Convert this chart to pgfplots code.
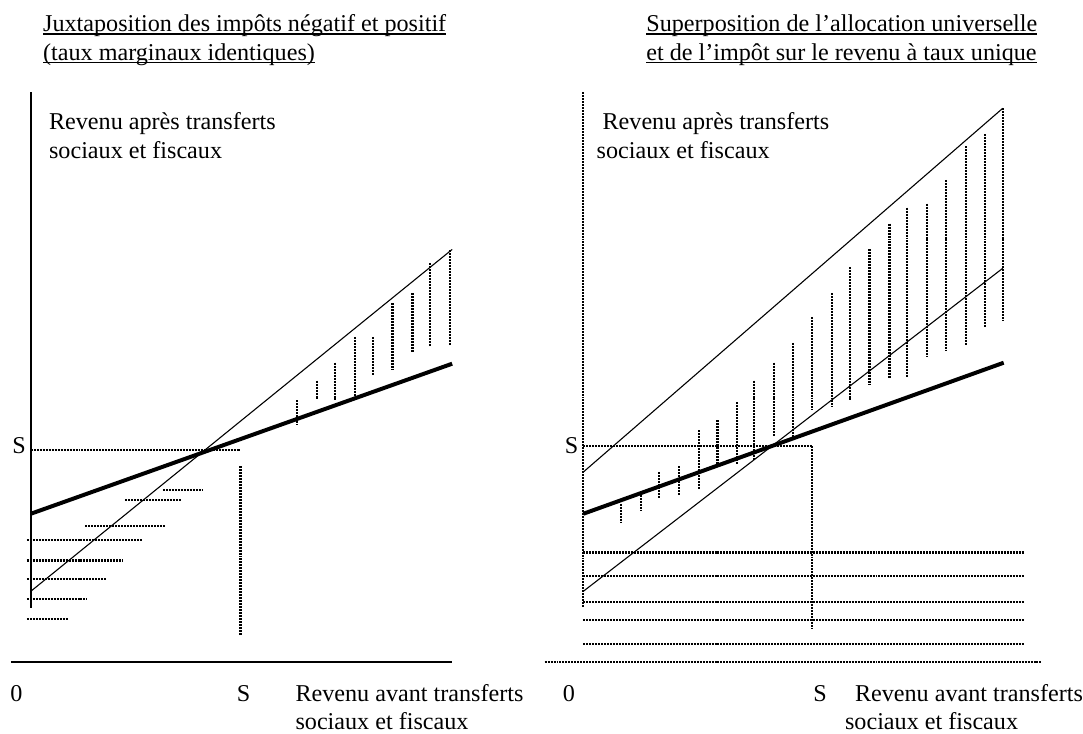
\documentclass[border=0pt]{standalone}
\usepackage{fontspec}
\setmainfont{Liberation Serif}
\usepackage{pgfplots}
\pgfplotsset{compat=1.18}
\newcommand\ul[1]{\leavevmode\setbox0\hbox{#1}\rlap{\rule[-1.4pt]{\wd0}{0.8pt}}\box0}
\begin{document}
\fontsize{12.15}{14.5}\selectfont
\begin{tikzpicture}[
  dsh/.style={black, line width=1.1pt, dash pattern=on 1pt off 0.5pt},
  lbl/.style={anchor=base west, inner sep=0pt, font=\fontsize{12.15}{14.5}\selectfont}]
\begin{axis}[scale only axis, width=541.5pt, height=369pt,
  xmin=0, xmax=1083, ymin=0, ymax=738, y dir=reverse,
  hide axis, clip=false]
\addplot[draw=none] coordinates {(0,0) (1083,738)};
% ===== Left panel =====
\node[lbl] at (43,32) {\ul{Juxtaposition des impôts négatif et positif}};
\node[lbl] at (43,61) {\ul{(taux marginaux identiques)}};
\node[lbl] at (49,130) {Revenu après transferts};
\node[lbl] at (49,160) {sociaux et fiscaux};
\node[lbl] at (12,456) {S};
\node[lbl] at (10,706) {0};
\node[lbl] at (238,706) {S};
\node[lbl] at (297,706) {Revenu avant transferts};
\node[lbl] at (297,734) {sociaux et fiscaux};
% axes
\addplot[black, line width=1pt] coordinates {(31,93) (31,612)};
\addplot[black, line width=1pt] coordinates {(11,666) (455,666)};
% S guides
\addplot[dsh] coordinates {(31,453) (242,453)};
\addplot[dsh] coordinates {(242,469) (242,640)};
% thin and thick lines
\addplot[black, line width=0.55pt] coordinates {(31,595) (455,251)};
\addplot[black, line width=2pt] coordinates {(31,517) (455,366)};
% horizontal hatches
\addplot[dsh] coordinates {(164,493) (204,493)};
\addplot[dsh] coordinates {(126,503) (182,503)};
\addplot[dsh] coordinates {(86,529) (166,529)};
\addplot[dsh] coordinates {(27,543) (144,543)};
\addplot[dsh] coordinates {(27,564) (124,564)};
\addplot[dsh] coordinates {(27,583) (108,583)};
\addplot[dsh] coordinates {(27,603) (88,603)};
\addplot[dsh] coordinates {(27,623) (68,623)};
% vertical hatches
\addplot[dsh] coordinates {(299,403) (299,428)};
\addplot[dsh] coordinates {(319,383) (319,402)};
\addplot[dsh] coordinates {(337,365) (337,404)};
\addplot[dsh] coordinates {(357,339) (357,398)};
\addplot[dsh] coordinates {(375,339) (375,378)};
\addplot[dsh] coordinates {(395,305) (395,372)};
\addplot[dsh] coordinates {(415,295) (415,354)};
\addplot[dsh] coordinates {(433,265) (433,348)};
\addplot[dsh] coordinates {(453,252) (453,347)};
% ===== Right panel =====
\node[lbl] at (650,32) {\ul{Superposition de l’allocation universelle}};
\node[lbl] at (650,61) {\ul{et de l’impôt sur le revenu à taux unique}};
\node[lbl] at (606,130) {Revenu après transferts};
\node[lbl] at (600,160) {sociaux et fiscaux};
\node[lbl] at (568,456) {S};
\node[lbl] at (566,706) {0};
\node[lbl] at (818,706) {S};
\node[lbl] at (860,706) {Revenu avant transferts};
\node[lbl] at (850,734) {sociaux et fiscaux};
% axes
\addplot[dsh] coordinates {(587,93) (587,612)};
\addplot[dsh] coordinates {(548,666) (1048,666)};
% S guides
\addplot[dsh] coordinates {(587,449) (817,449)};
\addplot[dsh] coordinates {(817,449) (817,633)};
% horizontal hatches
\addplot[dsh] coordinates {(587,556) (1030,556)};
\addplot[dsh] coordinates {(587,580) (1030,580)};
\addplot[dsh] coordinates {(587,606) (1030,606)};
\addplot[dsh] coordinates {(587,624) (1030,624)};
\addplot[dsh] coordinates {(587,648) (1030,648)};
% lines
\addplot[black, line width=0.55pt] coordinates {(587,475) (1009,109)};
\addplot[black, line width=0.55pt] coordinates {(587,595) (1009,270)};
\addplot[black, line width=2pt] coordinates {(587,517) (1010,365)};
% vertical hatches
\addplot[dsh] coordinates {(625,507) (625,526)};
\addplot[dsh] coordinates {(645,498) (645,514)};
\addplot[dsh] coordinates {(663,475) (663,502)};
\addplot[dsh] coordinates {(683,469) (683,498)};
\addplot[dsh] coordinates {(703,433) (703,492)};
\addplot[dsh] coordinates {(722,423) (722,467)};
\addplot[dsh] coordinates {(742,405) (742,468)};
\addplot[dsh] coordinates {(759,383) (759,463)};
\addplot[dsh] coordinates {(779,365) (779,440)};
\addplot[dsh] coordinates {(798,345) (798,440)};
\addplot[dsh] coordinates {(817,319) (817,413)};
\addplot[dsh] coordinates {(837,295) (837,410)};
\addplot[dsh] coordinates {(855,269) (855,404)};
\addplot[dsh] coordinates {(875,251) (875,387)};
\addplot[dsh] coordinates {(895,225) (895,380)};
\addplot[dsh] coordinates {(913,209) (913,380)};
\addplot[dsh] coordinates {(933,205) (933,359)};
\addplot[dsh] coordinates {(952,181) (952,353)};
\addplot[dsh] coordinates {(972,147) (972,347)};
\addplot[dsh] coordinates {(991,135) (991,330)};
\addplot[dsh] coordinates {(1009,109) (1009,323)};
\end{axis}
\end{tikzpicture}
\end{document}
